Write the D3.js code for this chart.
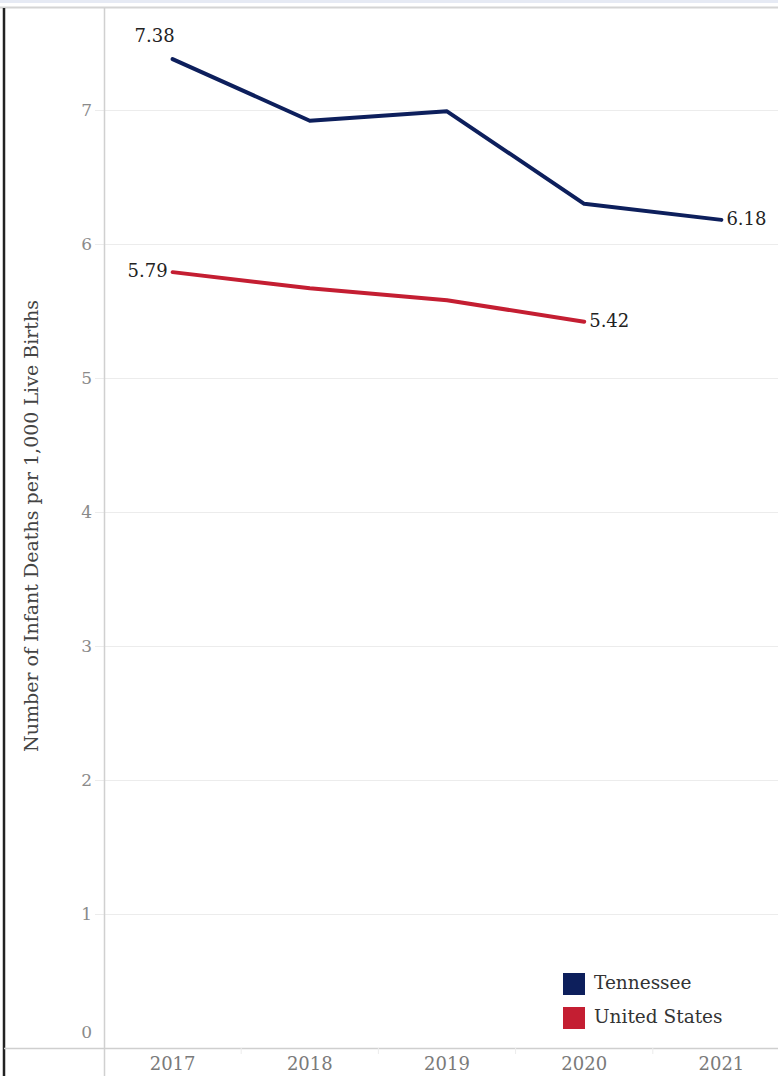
<!DOCTYPE html>
<html>
<head>
<meta charset="utf-8">
<script src="https://cdn.jsdelivr.net/npm/d3@7"></script>
<style>
html,body{margin:0;padding:0;background:#fff;}
svg{display:block;}
text{font-family:"DejaVu Serif",serif;}
</style>
</head>
<body>
<svg id="chart" width="778" height="1076"></svg>
<script>
const years = ["2017","2018","2019","2020","2021"];
const tennessee = [7.38, 6.92, 6.99, 6.30, 6.18];
const unitedStates = [5.79, 5.67, 5.58, 5.42, null];
const yTicks = [0,1,2,3,4,5,6,7];
const seriesNames = ["Tennessee","United States"];
const seriesColors = ["#0d1f5c","#c41e32"];
const yTitle = "Number of Infant Deaths per 1,000 Live Births";

const W = 778, H = 1076;
const svg = d3.select("#chart");

const plotLeft = 104, plotRight = 790, plotTop = 8, plotBottom = 1048;
const x = d3.scaleBand().domain(years).range([plotLeft, plotRight]).padding(0);
const y = d3.scaleLinear().domain([0, 7.7537]).range([plotBottom, plotTop + 1]);

// top strip
svg.append("rect").attr("x",0).attr("y",0).attr("width",W).attr("height",3).attr("fill","#e6eaf4");
svg.append("line").attr("x1",0).attr("x2",W).attr("y1",7.5).attr("y2",7.5).attr("stroke","#d4d4d4").attr("stroke-width",2);
// left border
svg.append("line").attr("x1",4).attr("x2",4).attr("y1",8).attr("y2",H).attr("stroke","#222").attr("stroke-width",2.5);

// gridlines
svg.append("g").selectAll("line").data(yTicks.filter(d=>d>0)).join("line")
  .attr("x1",95).attr("x2",W).attr("y1",d=>Math.round(y(d))+0.5).attr("y2",d=>Math.round(y(d))+0.5)
  .attr("stroke","#ececec").attr("stroke-width",1);

// y axis
const yAxis = d3.axisLeft(y).tickValues(yTicks).tickSize(0).tickPadding(12).tickFormat(d3.format("d"));
const gy = svg.append("g").attr("transform",`translate(${plotLeft},0)`).call(yAxis);
gy.select(".domain").remove();
gy.selectAll("text").attr("fill","#8a8a8a").attr("font-size",17).attr("font-family","DejaVu Serif")
  .attr("dy", d => d === 0 ? "-0.62em" : "0.32em");
// vertical axis line
svg.append("line").attr("x1",plotLeft+0.5).attr("x2",plotLeft+0.5).attr("y1",8).attr("y2",H).attr("stroke","#d0d0d0").attr("stroke-width",1.5);

// x axis
const xAxis = d3.axisBottom(x).tickSize(0).tickPadding(9);
const gx = svg.append("g").attr("transform",`translate(0,${plotBottom})`).call(xAxis);
gx.select(".domain").remove();
gx.selectAll("text").attr("fill","#7a7a7a").attr("font-size",18).attr("font-family","DejaVu Serif").attr("dy","0.72em");
svg.append("line").attr("x1",4).attr("x2",W).attr("y1",plotBottom+0.5).attr("y2",plotBottom+0.5).attr("stroke","#cfcfcf").attr("stroke-width",1.5);
// separators between year bands
svg.append("g").selectAll("line").data(years.slice(1)).join("line")
  .attr("x1",d=>x(d)).attr("x2",d=>x(d)).attr("y1",plotBottom).attr("y2",plotBottom+6)
  .attr("stroke","#ececec");

// y title
svg.append("text").attr("transform",`translate(38,${(300+752)/2}) rotate(-90)`)
  .attr("text-anchor","middle").attr("font-size",19).attr("fill","#444").text(yTitle);

// lines
const cx = d => x(d) + x.bandwidth()/2;
const line = d3.line().defined(d=>d.v!=null).x(d=>cx(d.year)).y(d=>y(d.v));
const seriesData = [tennessee, unitedStates].map(arr => years.map((yr,i)=>({year:yr, v:arr[i]})));
svg.append("g").selectAll("path").data(seriesData).join("path")
  .attr("d",line).attr("fill","none")
  .attr("stroke",(d,i)=>seriesColors[i]).attr("stroke-width",4)
  .attr("stroke-linejoin","round").attr("stroke-linecap","round");

// labels
const lbl = (txt, px, py, anchor) => svg.append("text").attr("x",px).attr("y",py)
  .attr("text-anchor",anchor).attr("dominant-baseline","middle")
  .attr("font-size",18).attr("fill","#222").text(txt);
lbl(d3.format(".2f")(tennessee[0]), cx(years[0]) - 18, y(tennessee[0]) - 22, "middle");
lbl(d3.format(".2f")(tennessee[4]), cx(years[4]) + 5, y(tennessee[4]), "start");
lbl(d3.format(".2f")(unitedStates[0]), cx(years[0]) - 5, y(unitedStates[0]), "end");
lbl(d3.format(".2f")(unitedStates[3]), cx(years[3]) + 5, y(unitedStates[3]), "start");

// legend
const lg = svg.append("g").attr("transform","translate(563,973)");
seriesNames.forEach((n,i)=>{
  lg.append("rect").attr("x",0).attr("y",i*34).attr("width",22).attr("height",22).attr("fill",seriesColors[i]);
  lg.append("text").attr("x",31).attr("y",i*34+11).attr("dominant-baseline","middle")
    .attr("font-size",18.5).attr("fill","#333").text(n);
});
</script>
</body>
</html>
